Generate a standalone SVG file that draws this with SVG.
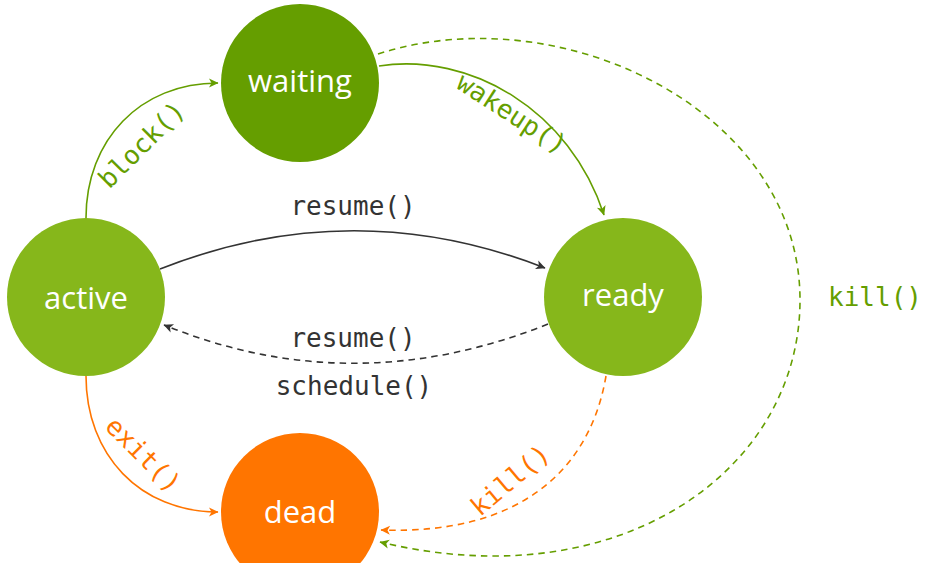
<svg xmlns="http://www.w3.org/2000/svg" width="925" height="563" viewBox="0 0 925 563">
<style>
.node-label{font-family:"Open Sans","Noto Sans",sans-serif;font-size:31px;fill:#ffffff;text-anchor:middle}
.edge-label{font-family:"DejaVu Sans Mono","Liberation Mono",monospace;font-size:26px;text-anchor:middle}
.edge{fill:none;stroke-width:1.6}
.dash{stroke-dasharray:6.5,5}
.g{stroke:#659e00}
.k{stroke:#333333}
.o{stroke:#ff7500}
</style>
<defs>
<marker id="ag" viewBox="-10 -5 11 10" refX="0" refY="0" markerWidth="11" markerHeight="10" markerUnits="userSpaceOnUse" orient="auto"><path d="M0.5,0 L-9,-4.5 L-6.5,0 L-9,4.5 Z" fill="#659e00"/></marker>
<marker id="ak" viewBox="-10 -5 11 10" refX="0" refY="0" markerWidth="11" markerHeight="10" markerUnits="userSpaceOnUse" orient="auto"><path d="M0.5,0 L-9,-4.5 L-6.5,0 L-9,4.5 Z" fill="#333333"/></marker>
<marker id="ao" viewBox="-10 -5 11 10" refX="0" refY="0" markerWidth="11" markerHeight="10" markerUnits="userSpaceOnUse" orient="auto"><path d="M0.5,0 L-9,-4.5 L-6.5,0 L-9,4.5 Z" fill="#ff7500"/></marker>
</defs>
<rect width="925" height="563" fill="#ffffff"/>
<g id="connectors">
<path class="edge g" d="M86,218 C86,140 140,83 218,83" marker-end="url(#ag)"/>
<path class="edge g" d="M379,66 C470,52 570,110 604,215" marker-end="url(#ag)"/>
<path class="edge k" d="M160,269 Q353,193 545,268" marker-end="url(#ak)"/>
<path class="edge k dash" d="M548,324 Q353,402 164,325" marker-end="url(#ak)"/>
<path class="edge o" d="M86,376 C86,455 140,512 218,512" marker-end="url(#ao)"/>
<path class="edge o dash" d="M606,376 C590,470 520,535 381,530" marker-end="url(#ao)"/>
<path class="edge g dash" d="M378,54 C560,-5 800,110 800,300 C800,470 620,600 380,542" marker-end="url(#ag)"/>
<text class="edge-label" fill="#659e00" transform="translate(148,151) rotate(-45)">block()</text>
<text class="edge-label" fill="#659e00" transform="translate(507,121) rotate(33)">wakeup()</text>
<text class="edge-label" fill="#333333" x="353" y="215">resume()</text>
<text class="edge-label" fill="#333333" x="353" y="347">resume()</text>
<text class="edge-label" fill="#333333" x="354" y="395">schedule()</text>
<text class="edge-label" fill="#ff7500" transform="translate(137,461) rotate(45)">exit()</text>
<text class="edge-label" fill="#ff7500" transform="translate(516,487) rotate(-40)">kill()</text>
<text class="edge-label" fill="#659e00" x="875" y="306">kill()</text>
</g>
<g id="node-waiting"><circle cx="300" cy="83" r="79" fill="#659e00"/><text class="node-label" x="300" y="92">waiting</text></g>
<g id="node-active"><circle cx="86" cy="297" r="79" fill="#86b71b"/><text class="node-label" x="86" y="309">active</text></g>
<g id="node-ready"><circle cx="623" cy="297" r="79" fill="#86b71b"/><text class="node-label" x="623" y="306">ready</text></g>
<g id="node-dead"><circle cx="300" cy="512" r="79" fill="#ff7500"/><text class="node-label" x="300" y="523">dead</text></g>
</svg>
